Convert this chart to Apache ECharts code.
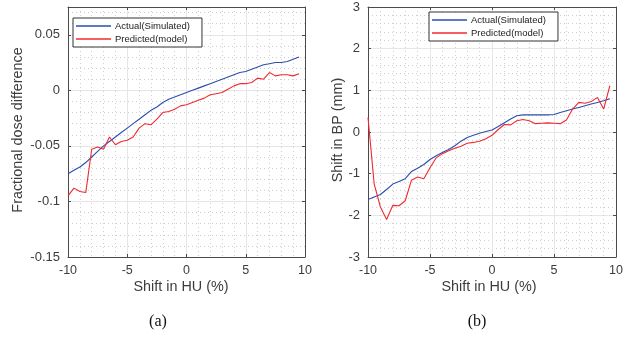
<!DOCTYPE html>
<html><head><meta charset="utf-8">
<script src="https://cdn.jsdelivr.net/npm/echarts@6/dist/echarts.min.js"></script>
<style>html,body{margin:0;padding:0;background:#fff}#c{width:626px;height:337px}</style>
</head><body><div id="c"></div>
<script>
const shiftHU = [-10,-9.5,-9,-8.5,-8,-7.5,-7,-6.5,-6,-5.5,-5,-4.5,-4,-3.5,-3,-2.5,-2,-1.5,-1,-0.5,0,0.5,1,1.5,2,2.5,3,3.5,4,4.5,5,5.5,6,6.5,7,7.5,8,8.5,9,9.5];
const doseActual = [-0.075,-0.072,-0.069,-0.065,-0.060,-0.055,-0.050,-0.046,-0.042,-0.038,-0.034,-0.030,-0.026,-0.022,-0.018,-0.015,-0.011,-0.008,-0.006,-0.004,-0.002,0.000,0.002,0.004,0.006,0.008,0.010,0.012,0.014,0.016,0.017,0.019,0.021,0.023,0.024,0.025,0.025,0.026,0.028,0.030];
const dosePredicted = [-0.095,-0.088,-0.091,-0.092,-0.053,-0.051,-0.053,-0.042,-0.049,-0.046,-0.045,-0.042,-0.034,-0.030,-0.031,-0.026,-0.020,-0.019,-0.017,-0.014,-0.013,-0.011,-0.009,-0.007,-0.004,-0.003,-0.002,0.001,0.004,0.006,0.006,0.007,0.011,0.010,0.016,0.013,0.014,0.014,0.013,0.015];
const bpActual = [-1.62,-1.56,-1.50,-1.38,-1.25,-1.19,-1.12,-0.95,-0.87,-0.78,-0.66,-0.57,-0.49,-0.42,-0.33,-0.22,-0.13,-0.08,-0.03,0.01,0.05,0.13,0.22,0.31,0.39,0.41,0.41,0.41,0.41,0.41,0.42,0.47,0.51,0.55,0.59,0.63,0.67,0.71,0.75,0.80];
const bpPredicted = [0.35,-1.25,-1.80,-2.10,-1.76,-1.77,-1.65,-1.16,-1.08,-1.12,-0.86,-0.62,-0.52,-0.45,-0.39,-0.34,-0.27,-0.25,-0.22,-0.16,-0.08,0.06,0.18,0.17,0.27,0.30,0.27,0.20,0.21,0.22,0.21,0.20,0.29,0.55,0.71,0.69,0.73,0.83,0.55,1.11];
const seriesNames = ['Actual(Simulated)','Predicted(model)'];
const xTitle = 'Shift in HU (%)';
const yTitles = ['Fractional dose difference','Shift in BP (mm)'];
const captions = ['(a)','(b)'];

const FONT = 'Liberation Sans';
const BLUE = '#2b4eae', RED = '#f2282f';
const axisCol = '#4a4a4a', txtCol = '#3c3c3c';
const chart = echarts.init(document.getElementById('c'), null, {renderer:'canvas'});

const minorStyle = {color:'#cfcfcf', width:1, type:[1,3]};
const majorStyle = {color:'#e6e6e6', width:1};
function mainX(gi){
  return {type:'value', gridIndex:gi, min:-10, max:10, interval:5, position:'bottom',
    axisLine:{show:true, onZero:false, lineStyle:{color:axisCol,width:1}},
    axisTick:{show:true, inside:true, length:3, lineStyle:{color:axisCol}},
    axisLabel:{color:txtCol, fontFamily:FONT, fontSize:12.5, margin:7},
    splitLine:{show:true, lineStyle:majorStyle},
    minorTick:{show:false, splitNumber:5},
    minorSplitLine:{show:true, lineStyle:minorStyle}};
}
function mainY(gi,min,max,interval){
  return {type:'value', gridIndex:gi, min:min, max:max, interval:interval, position:'left',
    axisLine:{show:true, onZero:false, lineStyle:{color:axisCol,width:1}},
    axisTick:{show:true, inside:true, length:3, lineStyle:{color:axisCol}},
    axisLabel:{color:txtCol, fontFamily:FONT, fontSize:13, margin:8, showMaxLabel: max===3},
    splitLine:{show:true, lineStyle:majorStyle},
    minorTick:{show:false, splitNumber:5},
    minorSplitLine:{show:true, lineStyle:minorStyle}};
}
function boxX(gi){
  return {type:'value', gridIndex:gi, min:-10, max:10, interval:5, position:'top',
    axisLine:{show:true, onZero:false, lineStyle:{color:axisCol,width:1}},
    axisTick:{show:true, inside:true, length:3, lineStyle:{color:axisCol}},
    axisLabel:{show:false}, splitLine:{show:false}};
}
function boxY(gi,min,max,interval){
  return {type:'value', gridIndex:gi, min:min, max:max, interval:interval, position:'right',
    axisLine:{show:true, onZero:false, lineStyle:{color:axisCol,width:1}},
    axisTick:{show:true, inside:true, length:3, lineStyle:{color:axisCol}},
    axisLabel:{show:false}, splitLine:{show:false}};
}
function pairs(xs, ys){ return xs.map((x,i)=>[x, ys[i]]); }
function line(name, xi, yi, data, color){
  return {type:'line', name:name, xAxisIndex:xi, yAxisIndex:yi, data:data, showSymbol:false,
    symbol:'none', lineStyle:{color:color, width:1.1}, itemStyle:{color:color}, animation:false, z:5};
}
function legend(gi, left, top){
  return {show:true, orient:'vertical', left:left, top:top, itemWidth:35, itemHeight:1.5, itemGap:1,
    icon:'rect', padding:[2,12,2,3], backgroundColor:'#fff', borderColor:'#333', borderWidth:1, borderRadius:0,
    textStyle:{fontFamily:FONT, fontSize:9.5, color:'#222', lineHeight:12, padding:[0,0,0,-1]},
    data:seriesNames.map(n=>({name:n})),
    selectedMode:false};
}

const TF = '14.4px "Liberation Sans"';
const option = {
  animation:false,
  grid:[
    {left:68, top:7, width:237, height:250, containLabel:false},
    {left:368, top:7, width:254, height:250, containLabel:false}
  ],
  xAxis:[mainX(0), boxX(0), mainX(1), boxX(1)],
  yAxis:[mainY(0,-0.15,0.075,0.05), boxY(0,-0.15,0.075,0.05), mainY(1,-3,3,1), boxY(1,-3,3,1)],
  legend:[legend(0,73,18), legend(1,429,12)],
  series:[
    line(seriesNames[0],0,0,pairs(shiftHU,doseActual),BLUE),
    line(seriesNames[1],0,0,pairs(shiftHU,dosePredicted),RED),
    line(seriesNames[0],2,2,pairs(shiftHU,bpActual),BLUE),
    line(seriesNames[1],2,2,pairs(shiftHU,bpPredicted),RED)
  ],
  graphic:[
    {type:'text', style:{text:xTitle, x:181, y:287, align:'center', verticalAlign:'middle', font:TF, fill:txtCol}},
    {type:'text', style:{text:xTitle, x:489, y:287, align:'center', verticalAlign:'middle', font:TF, fill:txtCol}},
    {type:'text', x:18, y:130, rotation:Math.PI/2, style:{text:yTitles[0], x:0, y:0, align:'center', verticalAlign:'middle', font:TF, fill:txtCol}},
    {type:'text', x:338, y:130, rotation:Math.PI/2, style:{text:yTitles[1], x:0, y:0, align:'center', verticalAlign:'middle', font:TF, fill:txtCol}},
    {type:'text', style:{text:captions[0], x:158, y:322, align:'center', verticalAlign:'middle', font:'16px "Liberation Serif"', fill:'#111'}},
    {type:'text', style:{text:captions[1], x:477, y:322, align:'center', verticalAlign:'middle', font:'16px "Liberation Serif"', fill:'#111'}}
  ]
};
chart.setOption(option);
</script></body></html>
